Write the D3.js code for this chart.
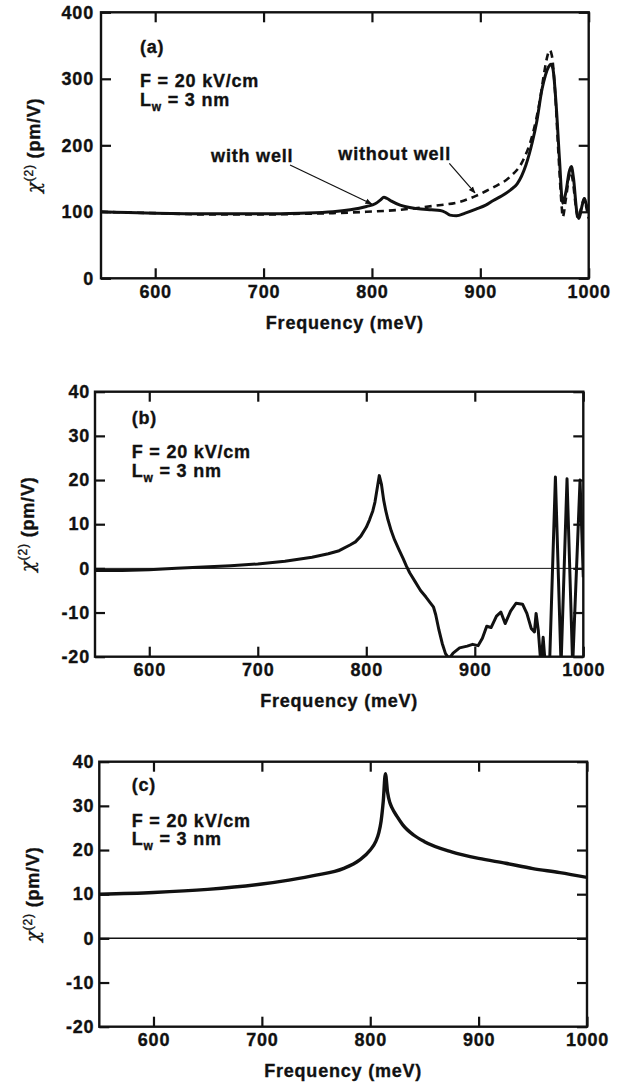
<!DOCTYPE html>
<html><head><meta charset="utf-8">
<script src="https://cdn.jsdelivr.net/npm/d3@7"></script>
<style>
body{margin:0;background:#fff}
svg text{font-family:"Liberation Sans",Arial,Helvetica,sans-serif;font-weight:bold;fill:#111;letter-spacing:0.8px;stroke:#111;stroke-width:0.35px}
</style>
</head><body>
<svg id="chart" width="626" height="1084"></svg>
<script>
// ---------- data ----------
const freqTicks = [600, 700, 800, 900, 1000];
const yTicksA = [0, 100, 200, 300, 400];
const yTicksBC = [-20, -10, 0, 10, 20, 30, 40];

// (a) with well (solid)
const aWithX = [550,575,600,650,700,734,764,780,795,803,808,811,814,818,826,841,855,863,868,872,878,886,896,905,912,920,928,934,942,948,952,957,960,963,965,967,970,973,976,979,982,984,986,989,991,994,996,998,1000];
const aWithY = [100,99,98,97,97,98,100,103,108,112,118,122,120,116,110,105,103,102,99,95,94,98,104,110,117,124,133,142,170,205,235,285,305,318,322,315,260,180,113,130,160,168,150,100,90,110,120,110,102];
// (a) without well (dashed)
const aWithoutX = [550,600,650,700,734,764,795,826,857,881,896,911,927,939,948,955,959,962,964,966,969,972,975,976,979,983,985,988,990,993,996,998,1000];
const aWithoutY = [100,98,96,96,97,98,100,103,109,115,124,136,152,176,215,268,310,335,343,335,280,190,110,92,120,160,150,110,90,105,120,105,90];

// (b)
const bX = [550,575,600,625,650,675,700,725,750,765,775,785,790,795,800,803,806,808,810,812,814,816,818,820,823,826,830,834,837,840,845,850,855,859,862,864,867,870,873,875,877,880,886,893,898,903,907,911,915,920,924,928,933,938,944,948,952,955,956.5,958.5,961,963,965,969,974.3,979.5,985,990.2,997,1000];
const bY = [-0.5,-0.5,-0.3,0,0.3,0.6,1.0,1.6,2.5,3.3,4.0,5.3,6.0,7.3,9.3,11,13,15,18,21,19,15.5,13,11,8.5,6.5,4.3,2.2,0.5,-1,-3,-5,-6.5,-7.8,-8.8,-10.5,-14,-17,-19.3,-20,-20.2,-19.2,-18,-17.6,-17.2,-17.5,-15.8,-13.1,-13.4,-10.8,-9.9,-12.5,-9.7,-7.9,-8.1,-10.2,-13.6,-14.4,-10.2,-14,-22,-15.6,-22,-21,20.7,-22,20.3,-22,20,-2];

// (c)
const cX = [550,600,650,700,725,750,775,790,800,805,808,810,812,814,816,818,820,825,830,840,850,875,900,925,950,975,1000];
const cY = [10.0,10.4,11.1,12.3,13.2,14.3,15.8,17.7,20,21.9,24,26.5,31,37.3,33,30.8,29.6,27.5,25.7,23.4,21.9,19.6,18.1,17,15.8,14.9,13.8];

// annotations (data units, panel a)
const annWithText = {x: 651.6, y: 175.3, label: "with well"};
const annWithArrow = {x1: 724.4, y1: 170.4, x2: 799.8, y2: 111.7};
const annWithoutText = {x: 769, y: 178, label: "without well"};
const annWithoutArrow = {x1: 871.4, y1: 172.9, x2: 895.1, y2: 128.3};

// ---------- layout ----------
const svg = d3.select("#chart");
const FS = "18px";
const panels = [
  {id:"a", left:101, right:588.7, top:12.3, bottom:278.3, yDomain:[0,400], yTicks:yTicksA, ytitleX:40, letter:"(a)", lx:39, ly:[40.7,74.7,93.2], zero:false},
  {id:"b", left:95, right:583.3, top:391.7, bottom:656.7, yDomain:[-20,40], yTicks:yTicksBC, ytitleX:34, letter:"(b)", lx:36.7, ly:[32.3,66.6,85.2], zero:true, zw:1},
  {id:"c", left:99.3, right:587, top:761.7, bottom:1026.7, yDomain:[-20,40], yTicks:yTicksBC, ytitleX:38.5, letter:"(c)", lx:32.4, ly:[29.3,64.8,83.6], zero:true, zw:1.5}
];

const defs = svg.append("defs");
defs.append("marker").attr("id","arrow").attr("viewBox","0 0 10 10").attr("refX",9).attr("refY",5)
  .attr("markerWidth",7).attr("markerHeight",7).attr("orient","auto-start-reverse").attr("markerUnits","userSpaceOnUse")
  .append("path").attr("d","M0,1 L10,5 L0,9 Z").attr("fill","#111");

panels.forEach(p => {
  const x = d3.scaleLinear().domain([550,1000]).range([p.left,p.right]);
  const y = d3.scaleLinear().domain(p.yDomain).range([p.bottom,p.top]);
  p.x = x; p.y = y;
  const g = svg.append("g");

  defs.append("clipPath").attr("id","clip-"+p.id).append("rect")
    .attr("x",p.left).attr("y",p.top).attr("width",p.right-p.left).attr("height",p.bottom-p.top);

  const styleAxis = (ax, labels) => {
    ax.select(".domain").remove();
    ax.selectAll(".tick line").attr("stroke","#111").attr("stroke-width",2.2);
    ax.attr("font-size",null).attr("font-family",null);
    ax.selectAll(".tick text").style("font-size",FS).attr("fill","#111");
    if(!labels) ax.selectAll(".tick text").remove();
  };
  const bx = g.append("g").attr("transform",`translate(0,${p.bottom})`)
    .call(d3.axisBottom(x).tickValues(freqTicks).tickSize(-10).tickPadding(7).tickFormat(d3.format("d")));
  styleAxis(bx,true);
  const tx = g.append("g").attr("transform",`translate(0,${p.top})`)
    .call(d3.axisTop(x).tickValues(freqTicks).tickSize(-10));
  styleAxis(tx,false);
  const ly = g.append("g").attr("transform",`translate(${p.left},0)`)
    .call(d3.axisLeft(y).tickValues(p.yTicks).tickSize(-10).tickPadding(p.id==="a"?7:5).tickFormat(d3.format("d")));
  styleAxis(ly,true);
  ly.selectAll(".tick text").text(d => String(d).replace("−","-"));
  const ry = g.append("g").attr("transform",`translate(${p.right},0)`)
    .call(d3.axisRight(y).tickValues(p.yTicks).tickSize(-10));
  styleAxis(ry,false);

  if(p.zero){
    g.append("line").attr("x1",p.left).attr("x2",p.right).attr("y1",y(0)).attr("y2",y(0))
      .attr("stroke","#111").attr("stroke-width",p.zw);
  }

  // frame
  g.append("rect").attr("x",p.left).attr("y",p.top).attr("width",p.right-p.left).attr("height",p.bottom-p.top)
    .attr("fill","none").attr("stroke","#111").attr("stroke-width",2.4);

  // axis titles
  g.append("text").attr("x",(p.left+p.right)/2).attr("y",p.bottom+50.5).attr("text-anchor","middle")
    .style("font-size",FS).text("Frequency (meV)");
  const yt = g.append("text").attr("transform",`translate(${p.ytitleX},${(p.top+p.bottom)/2}) rotate(-90)`)
    .attr("text-anchor","middle").style("font-size",FS);
  yt.append("tspan").style("font-weight","normal").style("font-family","'DejaVu Serif',serif").style("font-style","italic").text("χ");
  yt.append("tspan").attr("dy",-7).style("font-size","12px").style("font-weight","normal").text("(2)");
  yt.append("tspan").attr("dy",7).text(" (pm/V)");

  // panel annotations
  g.append("text").attr("x",p.left+p.lx).attr("y",p.top+p.ly[0]).style("font-size",FS).text(p.letter);
  g.append("text").attr("x",p.left+p.lx).attr("y",p.top+p.ly[1]).style("font-size",FS).text("F = 20 kV/cm");
  const lw = g.append("text").attr("x",p.left+p.lx).attr("y",p.top+p.ly[2]).style("font-size",FS);
  lw.append("tspan").text("L");
  lw.append("tspan").attr("dy",5).style("font-size","12px").text("w");
  lw.append("tspan").attr("dy",-5).text(" = 3 nm");
});

const line = (p, xs, ys) => d3.line().x((d,i)=>p.x(xs[i])).y((d,i)=>p.y(ys[i])).curve(d3.curveMonotoneX)(xs);
const lineLin = (p, xs, ys) => d3.line().x((d,i)=>p.x(xs[i])).y((d,i)=>p.y(ys[i]))(xs);

const pa = panels[0], pb = panels[1], pc = panels[2];
// panel a
svg.append("path").attr("clip-path","url(#clip-a)").attr("d",line(pa,aWithoutX,aWithoutY))
  .attr("fill","none").attr("stroke","#111").attr("stroke-width",2.6).attr("stroke-dasharray","7,5");
svg.append("path").attr("clip-path","url(#clip-a)").attr("d",line(pa,aWithX,aWithY))
  .attr("fill","none").attr("stroke","#111").attr("stroke-width",3).attr("stroke-linejoin","round");
// annotations
svg.append("text").attr("x",pa.x(annWithText.x)).attr("y",pa.y(annWithText.y)).style("font-size",FS).text(annWithText.label);
svg.append("text").attr("x",pa.x(annWithoutText.x)).attr("y",pa.y(annWithoutText.y)).style("font-size",FS).text(annWithoutText.label);
[annWithArrow, annWithoutArrow].forEach(a => {
  svg.append("line").attr("x1",pa.x(a.x1)).attr("y1",pa.y(a.y1)).attr("x2",pa.x(a.x2)).attr("y2",pa.y(a.y2))
    .attr("stroke","#111").attr("stroke-width",1.2).attr("marker-end","url(#arrow)");
});
// panel b
svg.append("path").attr("clip-path","url(#clip-b)").attr("d",lineLin(pb,bX,bY))
  .attr("fill","none").attr("stroke","#111").attr("stroke-width",3).attr("stroke-linejoin","round");
// panel c
svg.append("path").attr("clip-path","url(#clip-c)").attr("d",line(pc,cX,cY))
  .attr("fill","none").attr("stroke","#111").attr("stroke-width",3.4).attr("stroke-linejoin","round");
</script>
</body></html>
